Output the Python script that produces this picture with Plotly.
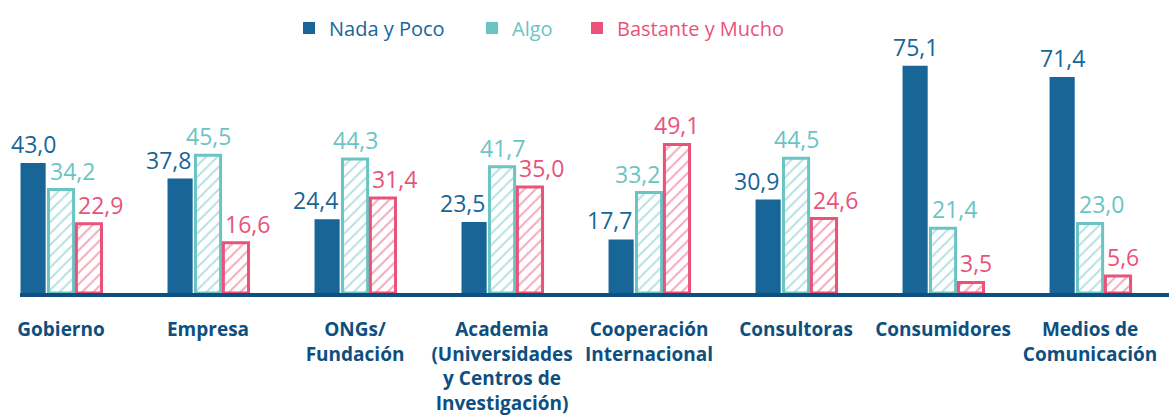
import plotly.graph_objects as go

categorias = ["Gobierno", "Empresa", "ONGs/<br>Fundación",
              "Academia<br>(Universidades<br>y Centros de<br>Investigación)",
              "Cooperación<br>Internacional", "Consultoras", "Consumidores",
              "Medios de<br>Comunicación"]
nada_poco = [43.0, 37.8, 24.4, 23.5, 17.7, 30.9, 75.1, 71.4]
algo = [34.2, 45.5, 44.3, 41.7, 33.2, 44.5, 21.4, 23.0]
bastante_mucho = [22.9, 16.6, 31.4, 35.0, 49.1, 24.6, 3.5, 5.6]

azul = "#186597"
turquesa = "#6bc4c4"
rosa = "#e9537a"
azul_eje = "#0e4f80"

# geometría de las barras (para colocar las etiquetas)
x_rango = [-0.279, 7.537]
ancho_plot = 1169 - 20
paso = ancho_plot / (x_rango[1] - x_rango[0])
bargap, bargroupgap = 0.43, 0.1
hueco = paso * (1 - bargap) / 3
media_barra = hueco * (1 - bargroupgap) / 2

fig = go.Figure()

fig.add_trace(go.Bar(x=categorias, y=nada_poco, marker=dict(color=azul, line=dict(width=0)),
                     showlegend=False))
for valores, color in [(algo, turquesa), (bastante_mucho, rosa)]:
    fig.add_trace(go.Bar(x=categorias, y=valores,
                         marker=dict(color="white", line=dict(color=color, width=3),
                                     pattern=dict(shape="/", fgcolor=color, bgcolor="white",
                                                  size=8, solidity=0.25)),
                         showlegend=False))


def etiqueta(cat, v, color, desplaz, ancla):
    fig.add_annotation(x=cat, y=v, text=f"{v:.1f}".replace(".", ","), showarrow=False,
                       xanchor=ancla, yanchor="bottom", xshift=desplaz, yshift=1,
                       font=dict(size=23, color=color))


for i, cat in enumerate(categorias):
    a, b, c = nada_poco[i], algo[i], bastante_mucho[i]
    # Nada y Poco
    if b > a:
        etiqueta(cat, a, azul, -hueco + media_barra, "right")
    else:
        etiqueta(cat, a, azul, -hueco, "center")
    # Algo
    if a > b:
        etiqueta(cat, b, turquesa, -media_barra, "left")
    elif c > b:
        etiqueta(cat, b, turquesa, media_barra, "right")
    else:
        etiqueta(cat, b, turquesa, 0, "center")
    # Bastante y Mucho
    if b > c:
        etiqueta(cat, c, rosa, hueco - media_barra, "left")
    else:
        etiqueta(cat, c, rosa, hueco, "center")

# entradas de leyenda con cuadrados sólidos, cada una en su propia leyenda
leyendas = [("Nada y Poco", azul, "legend", 330), ("Algo", turquesa, "legend2", 513),
            ("Bastante y Mucho", rosa, "legend3", 618)]
for nombre, color, ley, x_texto in leyendas:
    fig.add_trace(go.Scatter(x=[None], y=[None], mode="markers", legend=ley,
                             name=f"<span style='color:{color}'>{nombre}</span>",
                             marker=dict(symbol="square", size=12, color=color)))
    fig.update_layout({ley: dict(orientation="h", xref="container", yref="container",
                                 x=(x_texto - 41) / 1169, xanchor="left",
                                 y=1 - 28 / 416, yanchor="middle", font=dict(size=20),
                                 bgcolor="rgba(0,0,0,0)")})

fig.update_layout(
    width=1169, height=416,
    margin=dict(l=20, r=0, t=60, b=123),
    plot_bgcolor="white", paper_bgcolor="white",
    font=dict(family="Open Sans", color=azul_eje),
    barmode="group", bargap=bargap, bargroupgap=bargroupgap,
)
fig.update_xaxes(showline=True, linecolor=azul_eje, linewidth=4, range=x_rango,
                 automargin=False,
                 ticks="outside", ticklen=16, tickcolor="rgba(0,0,0,0)",
                 tickfont=dict(size=19, color=azul_eje, weight="bold"))
fig.update_yaxes(range=[0, 77], showgrid=False, zeroline=False, showticklabels=False)

# sin margen del body para que la figura ocupe la ventana desde (0, 0)
fig.write_html("out.html", config={"displayModeBar": False},
               post_script="document.body.style.margin='0px';")
